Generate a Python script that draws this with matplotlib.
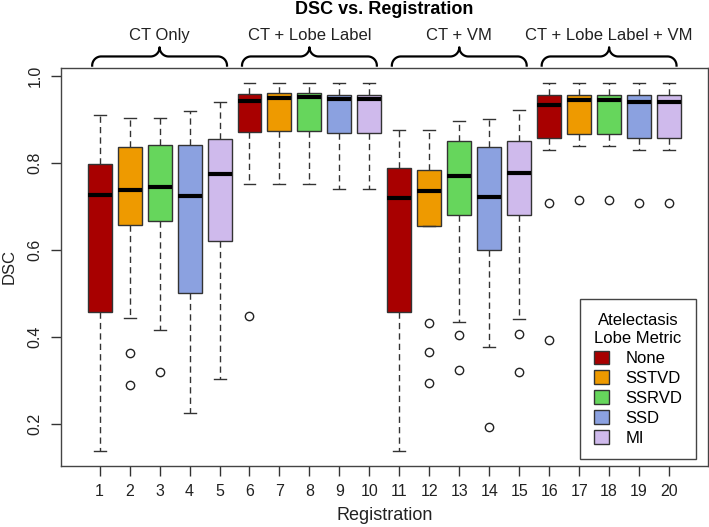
import numpy as np
import matplotlib.pyplot as plt
from matplotlib.patches import Patch

plt.rcParams['font.family'] = ['Liberation Sans', 'DejaVu Sans']

# five-number summaries, registrations 1..20
whislo = [0.137, 0.444, 0.415, 0.224, 0.304,
          0.751, 0.751, 0.751, 0.740, 0.740,
          0.137, 0.654, 0.434, 0.376, 0.441,
          0.830, 0.838, 0.838, 0.830, 0.830]
q1 = [0.457, 0.657, 0.667, 0.500, 0.621,
      0.871, 0.873, 0.874, 0.869, 0.869,
      0.457, 0.654, 0.680, 0.599, 0.680,
      0.858, 0.866, 0.866, 0.857, 0.857]
med = [0.726, 0.737, 0.745, 0.723, 0.774,
       0.943, 0.949, 0.951, 0.946, 0.946,
       0.718, 0.736, 0.769, 0.721, 0.777,
       0.933, 0.944, 0.944, 0.939, 0.940]
q3 = [0.798, 0.836, 0.842, 0.842, 0.854,
      0.959, 0.960, 0.960, 0.957, 0.957,
      0.788, 0.783, 0.851, 0.837, 0.851,
      0.956, 0.957, 0.957, 0.956, 0.956]
whishi = [0.910, 0.903, 0.903, 0.920, 0.939,
          0.983, 0.983, 0.983, 0.983, 0.983,
          0.875, 0.875, 0.897, 0.900, 0.922,
          0.983, 0.983, 0.983, 0.983, 0.983]
fliers = [[], [0.362, 0.290], [0.320], [], [],
          [0.447], [], [], [], [],
          [], [0.431, 0.364, 0.294], [0.405, 0.323], [0.192], [0.407, 0.320],
          [0.707, 0.393], [0.715], [0.715], [0.707], [0.707]]

metrics = ['None', 'SSTVD', 'SSRVD', 'SSD', 'MI']
metric_colors = ['#A80000', '#EE9A00', '#66D65C', '#8BA1E0', '#CFBAEC']
groups = ['CT Only', 'CT + Lobe Label', 'CT + VM', 'CT + Lobe Label + VM']

W, H = 709, 527
fig = plt.figure(figsize=(W / 100, H / 100), dpi=100)
L, R, T, B = 60.7, 708, 68, 466
ax = fig.add_axes([L / W, 1 - B / H, (R - L) / W, (B - T) / H])

stats = []
for i in range(20):
    stats.append(dict(whislo=whislo[i], q1=q1[i], med=med[i], q3=q3[i],
                      whishi=whishi[i], fliers=fliers[i]))

pos = np.arange(1, 21)
bp = ax.bxp(stats, positions=pos, widths=0.8, patch_artist=True,
            showfliers=True,
            boxprops=dict(edgecolor='#333333', linewidth=1.0),
            medianprops=dict(color='black', linewidth=3, solid_capstyle='butt'),
            whiskerprops=dict(color='#333333', linewidth=1.0, linestyle=(0, (4.5, 3))),
            capprops=dict(color='#333333', linewidth=1.0),
            capwidths=0.4,
            flierprops=dict(marker='o', markerfacecolor='none',
                            markeredgecolor='#222222', markersize=6,
                            markeredgewidth=1.0))
for i, box in enumerate(bp['boxes']):
    box.set_facecolor(metric_colors[i % 5])

ax.set_xlim(-0.3, 21.3)
ax.set_ylim(0.103, 1.018)
ax.set_xticks(pos)
ax.set_xticklabels([str(p) for p in pos])
ax.set_yticks([0.2, 0.4, 0.6, 0.8, 1.0])
ax.set_yticklabels(['0.2', '0.4', '0.6', '0.8', '1.0'], rotation=90, va='center')
ax.tick_params(axis='both', direction='out', length=7, width=1.0,
               colors='#333333', labelsize=11.5, labelcolor='#222222', pad=6)
for s in ax.spines.values():
    s.set_color('#444444')
    s.set_linewidth(1.0)

ax.set_xlabel('Registration', fontsize=13, color='#222222', labelpad=6)
ax.set_ylabel('DSC', fontsize=12, color='#222222', labelpad=8)
fig.text(0.5 * (L + R) / W, 1 - 10 / H, 'DSC vs. Registration',
         ha='center', va='center', fontsize=13, fontweight='bold')

# curly braces over each group
trans = ax.get_xaxis_transform()
def brace(x0, x1, yb, yt):
    xc = 0.5 * (x0 + x1)
    rx = 0.3
    ym = 0.5 * (yb + yt)
    ry = ym - yb
    t = np.linspace(0, np.pi / 2, 20)
    xs, ys = [], []
    xs += list(x0 + rx - rx * np.cos(t)); ys += list(yb + ry * np.sin(t))
    xs += list(xc - rx + rx * np.sin(t)); ys += list(ym + ry * (1 - np.cos(t)))
    xs += list(xc + rx - rx * np.sin(t[::-1])); ys += list(ym + ry * (1 - np.cos(t[::-1])))
    xs += list(x1 - rx + rx * np.cos(t[::-1])); ys += list(yb + ry * np.sin(t[::-1]))
    ax.plot(xs, ys, color='black', lw=1.6, transform=trans, clip_on=False)

for g in range(4):
    x0 = 5 * g + 1 - 0.25
    x1 = 5 * g + 5 + 0.25
    brace(x0, x1, 1.006, 1.052)
    ax.text(5 * g + 3, 1.082, groups[g], transform=trans, ha='center',
            va='center', fontsize=12, color='#222222')

handles = [Patch(facecolor=c, edgecolor='#333333', linewidth=1.0) for c in metric_colors]
leg = ax.legend(handles, metrics, title='Atelectasis\nLobe Metric',
                loc='lower right', bbox_to_anchor=(0.981, 0.018),
                borderaxespad=0, fancybox=False, framealpha=1,
                edgecolor='#444444', fontsize=12, title_fontsize=12,
                handlelength=0.9, handleheight=0.9, labelspacing=0.25,
                handletextpad=1.0, borderpad=0.8)
leg.get_frame().set_linewidth(1.0)
leg.get_title().set_multialignment('center')
leg.get_title().set_linespacing(1.3)
leg._legend_box.align = 'center'

fig.savefig('out.png', dpi=100)
